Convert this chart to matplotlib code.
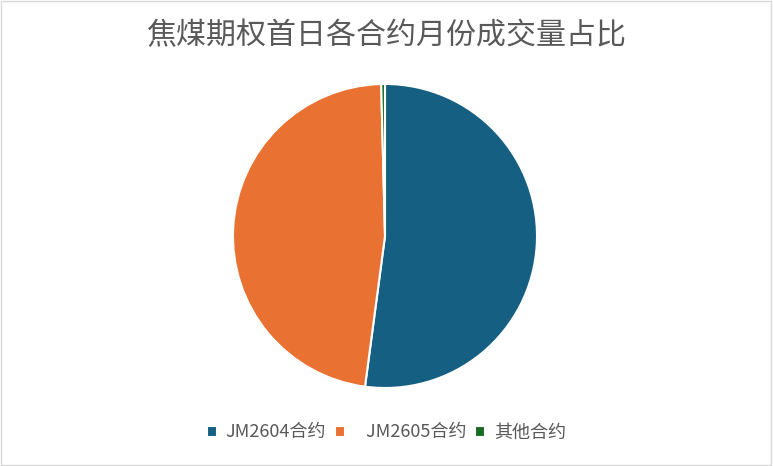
import matplotlib.pyplot as plt
from matplotlib.patches import Rectangle

plt.rcParams['font.family'] = ['Noto Sans CJK SC', 'DejaVu Sans']

labels = ["JM2604合约", "   JM2605合约", "其他合约"]
shares = [52.1, 47.5, 0.4]
colors = ["#156082", "#E97132", "#196B24"]

fig = plt.figure(figsize=(7.73, 4.66), dpi=100)
fig.patches.append(Rectangle((0.001, 0.002), 0.997, 0.996, transform=fig.transFigure,
                             fill=False, edgecolor="#D9D9D9", linewidth=1))

ax = fig.add_axes([0.3014, 0.1674, 0.3933, 0.6524])
wedges, _ = ax.pie(shares, colors=colors, startangle=90, counterclock=False,
                   wedgeprops=dict(edgecolor="white", linewidth=1.5))
ax.set_xlim(-1.0, 1.0)
ax.set_ylim(-1.0, 1.0)
ax.set_aspect("equal")

fig.text(0.5, 0.923, "焦煤期权首日各合约月份成交量占比", ha="center", va="center",
         fontsize=21.6, color="#595959")

fig.legend(wedges, labels, loc="center", bbox_to_anchor=(0.5, 0.072), ncol=3,
           frameon=False, fontsize=13, handlelength=0.55, handleheight=0.55,
           handletextpad=0.5, columnspacing=0.5, labelcolor="#595959")

plt.savefig("out.png", dpi=100)
